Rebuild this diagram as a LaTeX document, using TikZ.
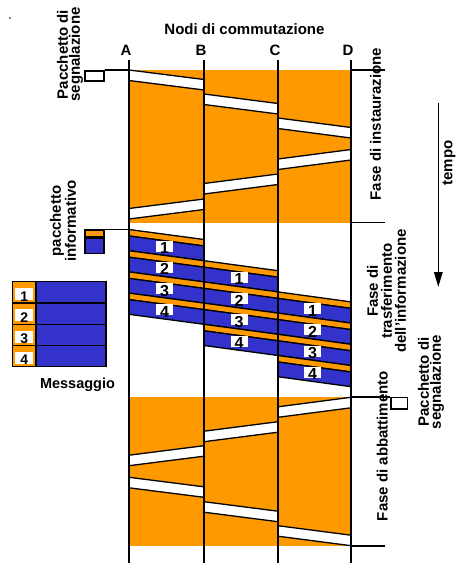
\documentclass[tikz,border=0pt]{standalone}
\usepackage{fontspec}
\setmainfont{Liberation Sans}
\usetikzlibrary{arrows.meta}
\definecolor{orng}{HTML}{FF9900}
\definecolor{pblue}{HTML}{3333CC}
\tikzset{
  node line/.style={line width=1.8pt},
  tick line/.style={line width=1.8pt},
  sig stripe/.style={fill=white, draw=black, line width=1.3pt},
  hdr band/.style={fill=orng, draw=black, line width=1.3pt},
  body band/.style={fill=pblue, draw=black, line width=1.3pt},
  num box/.style={
    fill=white,
    inner sep=0pt,
    minimum width=17pt,
    minimum height=11pt,
    font=\fontsize{16}{16}\selectfont\bfseries,
  },
  pkt box/.style={
    draw=black,
    line width=1.5pt,
    inner sep=0pt,
    minimum width=19pt,
  },
  node label/.style={
    font=\fontsize{15}{12}\selectfont\bfseries,
    inner sep=0pt,
  },
  side label/.style={
    node label,
    rotate=90,
    align=center,
  },
  time arrow/.style={
    line width=1.5pt,
    -{Triangle[length=15pt,width=8.5pt]},
  },
}
% signalling packet crossing one hop: from x, to x, top y at start
\newcommand{\sigpkt}[3]{%
  \filldraw[sig stripe] (#1,#3) -- (#2,#3+9.5) -- (#2,#3+20) -- (#1,#3+10.5) -- cycle;}

\begin{document}
\begin{tikzpicture}[x=1pt, y=-1pt]
  \useasboundingbox (0,0) rectangle (458,565);

  \fill (10,18) circle (0.8);

  % --- Phase backgrounds ---
  \fill[orng] (129,70) rectangle (351,222.5);
  \fill[orng] (129,396.7) rectangle (351,546);

  % --- Set-up: A -> D and back ---
  \sigpkt{129}{204}{70}
  \sigpkt{204}{278}{94}
  \sigpkt{278}{351}{118}
  \sigpkt{351}{278}{149.5}
  \sigpkt{278}{204}{174}
  \sigpkt{204}{129}{199}

  % --- Tear-down: D -> A and back ---
  \sigpkt{351}{278}{397.3}
  \sigpkt{278}{204}{421.7}
  \sigpkt{204}{129}{445.7}
  \sigpkt{129}{204}{477.3}
  \sigpkt{204}{278}{501.7}
  \sigpkt{278}{351}{525.7}

  % --- Information transfer (4 packets, store and forward) ---
  \foreach \xa/\xb/\sy [count=\hop] in {129/204/229.5, 204/278/260.7, 278/351/291.9} {
    \foreach \pk in {1,...,4} {
      \pgfmathsetmacro{\ty}{\sy+21.2*(\pk-1)}
      \filldraw[hdr band] (\xa,\ty) -- (\xb,\ty+10) -- (\xb,\ty+16.5) -- (\xa,\ty+6.5) -- cycle;
      \filldraw[body band] (\xa,\ty+6.5) -- (\xb,\ty+16.5) -- (\xb,\ty+31.2) -- (\xa,\ty+21.2) -- cycle;
    }
    \foreach \pk in {1,...,4} {
      \pgfmathsetmacro{\ty}{\sy+21.2*(\pk-1)}
      \node[num box] (p\hop\pk) at ({(\xa+\xb)/2-2},\ty+16.7) {\raisebox{-7.5pt}[0pt][0pt]{\pk}};
    }
  }

  % --- Switching nodes ---
  \foreach \nm/\x in {A/129, B/204, C/278, D/351} {
    \coordinate (\nm top) at (\x,60);
    \coordinate (\nm bot) at (\x,563);
    \draw[node line] (\nm top) -- (\nm bot);
    \node[node label] (lbl\nm) at (\x-3,50) {\nm};
  }
  \node[node label] (nodi) at (244.5,29) {Nodi di commutazione};

  % --- Phase ticks on D ---
  \foreach \ty [count=\i] in {70, 222.5, 545.7} {
    \coordinate (Dt\i) at (351,\ty);
    \coordinate (Et\i) at (385,\ty);
    \draw[tick line] (Dt\i) -- (Et\i);
  }

  % --- Packets entering / leaving ---
  \node[pkt box, fill=white, minimum height=10pt, anchor=north west] (sigtop) at (84.3,70) {};
  \coordinate (A setup) at (129,70);
  \draw[tick line] (sigtop.north east) -- (A setup);

  \node[pkt box, fill=orng, minimum height=7pt, anchor=north west] (infohdr) at (84.3,229.3) {};
  \node[pkt box, fill=pblue, minimum height=14.7pt, anchor=north] (infobody) at (infohdr.south) {};
  \coordinate (A info) at (129,229.3);
  \draw[line width=1.3pt] (infohdr.north east) -- (A info);

  \node[pkt box, fill=white, minimum width=16.7pt, minimum height=11.6pt, anchor=north west] (sigbot) at (390,396.7) {};
  \coordinate (D down) at (351,396.7);
  \draw[tick line] (D down) -- (sigbot.north west);

  % --- Message ---
  \foreach \row in {1,...,4} {
    \pgfmathsetmacro{\ry}{281.7+21.25*(\row-1)}
    \filldraw[hdr band] (12.7,\ry) rectangle (36,\ry+21.25);
    \filldraw[body band] (36,\ry) rectangle (106,\ry+21.25);
    \node[num box, minimum width=18pt, minimum height=12pt, font=\fontsize{14}{14}\selectfont\bfseries] (m\row) at (24.3,\ry+12.4) {\raisebox{-7pt}[0pt][0pt]{\row}};
  }
  \node[node label, font=\fontsize{14.5}{12}\selectfont\bfseries] (msg) at (77.5,385) {Messaggio};

  % --- Labels ---
  \node[side label] (sigl1) at (70,54.5) {Pacchetto di\\segnalazione};
  \node[side label] (infol) at (63,221) {pacchetto\\informativo};
  \node[side label] (sigl2) at (431,382) {Pacchetto di\\segnalazione};
  \node[side label] (fase1) at (375.5,124) {Fase di instaurazione};
  \node[side label, font=\fontsize{15}{14}\selectfont\bfseries] (fase2) at (386.5,291) {Fase di\\trasferimento\\dell'informazione};
  \node[side label] (fase3) at (382.3,446) {Fase di abbattimento};

  % --- Time axis ---
  \coordinate (tstart) at (438.3,103);
  \coordinate (tend) at (438.3,287);
  \draw[time arrow] (tstart) -- (tend);
  \node[side label] (tempo) at (449,163) {tempo};

\end{tikzpicture}
\end{document}
